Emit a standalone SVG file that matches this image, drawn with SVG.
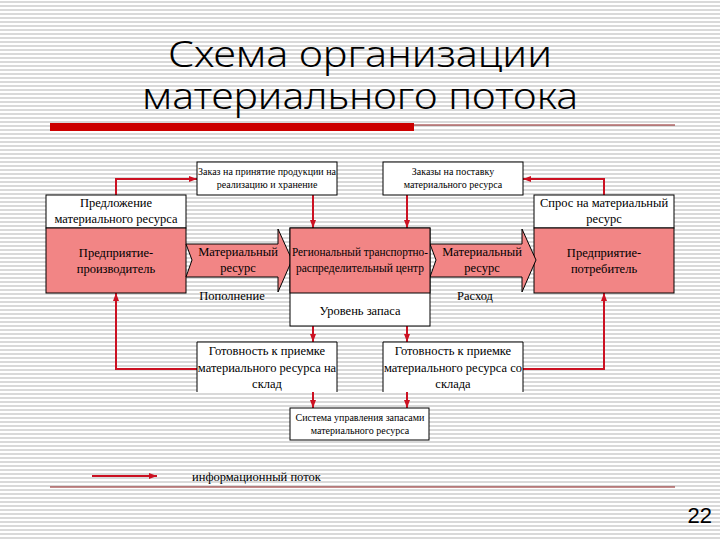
<svg xmlns="http://www.w3.org/2000/svg" width="720" height="540" viewBox="0 0 720 540">
<defs>
<pattern id="stripes" width="8" height="4" patternUnits="userSpaceOnUse">
<rect width="8" height="4" fill="#ffffff"/>
<rect y="1" width="8" height="2" fill="#d9d9d9"/>
</pattern>
<marker id="ah" markerWidth="8" markerHeight="6" refX="8" refY="3" orient="auto" markerUnits="userSpaceOnUse">
<path d="M0,0 L8,3 L0,6 Z" fill="#cc1122"/>
</marker>
<style>
.box{fill:#ffffff;stroke:#000000;stroke-width:1}
.pink{fill:#f28585;stroke:#000000;stroke-width:1}
.t{fill:#000000;text-anchor:middle}
.s12{font-size:12.5px}
.s11{font-size:11.5px}
.s10{font-size:10px}
.con{fill:none;stroke:#cc1122;stroke-width:2;marker-end:url(#ah)}
.title{font-size:37px;fill:#000000;text-anchor:middle}
</style>
</defs>
<rect width="720" height="540" fill="url(#stripes)"/>

<g id="title" font-family="Noto Sans, DejaVu Sans, sans-serif" font-weight="300">
<text class="title" x="360" y="67" textLength="384" lengthAdjust="spacingAndGlyphs">Схема организации</text>
<text class="title" x="360" y="109" textLength="436" lengthAdjust="spacingAndGlyphs">материального потока</text>
<rect x="50" y="123" width="364" height="8" fill="#cc0000"/>
<line x1="414" y1="125" x2="675" y2="125" stroke="#8b1a1a" stroke-width="1"/>
</g>

<g id="connectors">
<polyline class="con" points="116,195 116,179 197,179"/>
<polyline class="con" points="313,195 313,228"/>
<polyline class="con" points="604,195 604,179 523,179"/>
<polyline class="con" points="407,195 407,228"/>
<polyline class="con" points="313,326 313,342"/>
<polyline class="con" points="407,326 407,342"/>
<polyline class="con" points="197,369 116,369 116,293"/>
<polyline class="con" points="523,369 604,369 604,293"/>
<polyline class="con" points="313,392 313,408"/>
<polyline class="con" points="407,392 407,408"/>
</g>

<g font-family="Liberation Serif, Times New Roman, DejaVu Serif, serif">
<g id="order-top-left">
<rect class="box" x="197" y="162" width="140" height="33"/>
<text class="t s10" x="267" y="175">Заказ на принятие продукции на</text>
<text class="t s10" x="267" y="188">реализацию и хранение</text>
</g>

<g id="order-top-right">
<rect class="box" x="383" y="162" width="140" height="33"/>
<text class="t s10" x="453" y="175">Заказы на поставку</text>
<text class="t s10" x="453" y="188">материального ресурса</text>
</g>

<g id="producer">
<rect class="box" x="46" y="195" width="140" height="33"/>
<rect class="pink" x="46" y="228" width="140" height="65"/>
<text class="t s12" x="116" y="207">Предложение</text>
<text class="t s12" x="116" y="223">материального ресурса</text>
<text class="t s12" x="116" y="257">Предприятие-</text>
<text class="t s12" x="116" y="273">производитель</text>
</g>

<g id="consumer">
<rect class="box" x="534" y="195" width="140" height="33"/>
<rect class="pink" x="534" y="228" width="140" height="65"/>
<text class="t s12" x="604" y="207">Спрос на материальный</text>
<text class="t s12" x="604" y="223">ресурс</text>
<text class="t s12" x="604" y="257">Предприятие-</text>
<text class="t s12" x="604" y="273">потребитель</text>
</g>

<g id="arrow-left">
<path class="pink" d="M186,244 L278,244 L278,229 L292,260 L278,292 L278,277 L186,277 L192,260 Z"/>
<text class="t s12" x="238" y="256">Материальный</text>
<text class="t s12" x="238" y="272">ресурс</text>
<text class="t s12" x="232" y="300">Пополнение</text>
</g>

<g id="arrow-right">
<path class="pink" d="M430,244 L522,244 L522,229 L536,260 L522,292 L522,277 L430,277 L436,260 Z"/>
<text class="t s12" x="482" y="256">Материальный</text>
<text class="t s12" x="482" y="272">ресурс</text>
<text class="t s12" x="475" y="300">Расход</text>
</g>

<g id="center">
<rect class="box" x="290" y="228" width="140" height="98"/>
<rect class="pink" x="290" y="228" width="140" height="65"/>
<text class="t s11" x="360" y="256" textLength="136" lengthAdjust="spacingAndGlyphs">Региональный транспортно-</text>
<text class="t s11" x="360" y="272">распределительный центр</text>
<text class="t s12" x="360" y="315">Уровень запаса</text>
</g>

<g id="ready-in">
<path d="M197,392 L197,342 L337,342 L337,392" fill="#ffffff" stroke="#000000" stroke-width="1"/>
<text class="t s12" x="267" y="355">Готовность к приемке</text>
<text class="t s12" x="267" y="372">материального ресурса на</text>
<text class="t s12" x="267" y="388">склад</text>
</g>

<g id="ready-out">
<path d="M383,392 L383,342 L523,342 L523,392" fill="#ffffff" stroke="#000000" stroke-width="1"/>
<text class="t s12" x="453" y="355">Готовность к приемке</text>
<text class="t s12" x="453" y="372">материального ресурса со</text>
<text class="t s12" x="453" y="388">склада</text>
</g>

<g id="system">
<rect class="box" x="290" y="408" width="139" height="32"/>
<text class="t s10" x="360" y="421">Система управления запасами</text>
<text class="t s10" x="360" y="434">материального ресурса</text>
</g>

<g id="legend">
<line x1="92" y1="476" x2="157" y2="476" stroke="#cc1122" stroke-width="2" marker-end="url(#ah)"/>
<text class="t s12" x="192" y="481" style="text-anchor:start">информационный поток</text>
</g>
</g>

<g id="footer">
<line x1="50" y1="487" x2="675" y2="487" stroke="#8b1a1a" stroke-width="1"/>
<text x="712" y="523" font-family="Liberation Sans, Arial, sans-serif" font-size="22" text-anchor="end" fill="#000000">22</text>
</g>
</svg>
